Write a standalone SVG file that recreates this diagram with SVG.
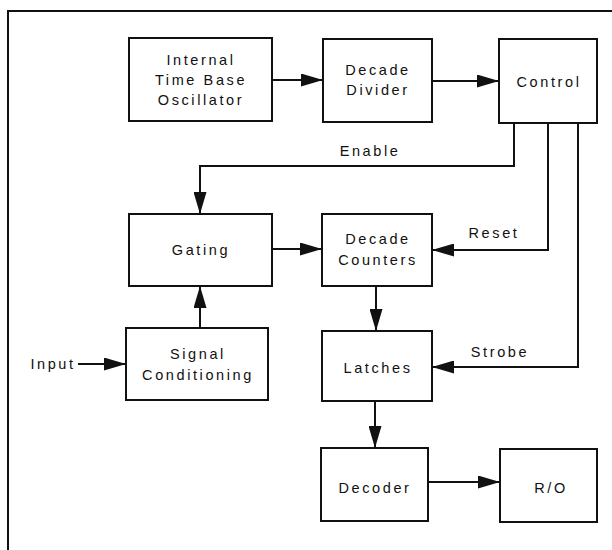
<svg xmlns="http://www.w3.org/2000/svg" width="612" height="550" viewBox="0 0 612 550">
<style>
  .box { fill: #fff; stroke: #111; stroke-width: 2; }
  .t { font-family: "Liberation Sans", Arial, sans-serif; font-size: 14.5px; letter-spacing: 2.6px; fill: #111; text-anchor: middle; }
  .c { fill: none; stroke: #111; stroke-width: 2; marker-end: url(#ah); }
  .frame { fill: none; stroke: #111; stroke-width: 2; }
</style>
<defs>
  <marker id="ah" markerUnits="userSpaceOnUse" markerWidth="22" markerHeight="13" refX="22" refY="6.5" orient="auto">
    <path d="M0,0 L22,6.5 L0,13 z" fill="#111"/>
  </marker>
</defs>
<rect width="612" height="550" fill="#fff"/>
<path class="frame" d="M8,550 V11 H612"/>
<g id="osc"><rect class="box" x="129" y="38" width="143" height="83"/>
  <text class="t" x="201" y="65">Internal</text><text class="t" x="201" y="85">Time Base</text><text class="t" x="201" y="105">Oscillator</text></g>
<g id="divider"><rect class="box" x="323" y="39" width="109" height="83"/>
  <text class="t" x="378" y="75">Decade</text><text class="t" x="378" y="95">Divider</text></g>
<g id="control"><rect class="box" x="499" y="39" width="98" height="84"/>
  <text class="t" x="549" y="87">Control</text></g>
<g id="gating"><rect class="box" x="129" y="214" width="143" height="72"/>
  <text class="t" x="201" y="255">Gating</text></g>
<g id="counters"><rect class="box" x="322" y="214" width="110" height="72"/>
  <text class="t" x="378" y="244">Decade</text><text class="t" x="378" y="265">Counters</text></g>
<g id="signal"><rect class="box" x="126" y="328" width="142" height="72"/>
  <text class="t" x="198" y="359">Signal</text><text class="t" x="198" y="380">Conditioning</text></g>
<g id="latches"><rect class="box" x="322" y="331" width="110" height="70"/>
  <text class="t" x="378" y="373">Latches</text></g>
<g id="decoder"><rect class="box" x="321" y="448" width="107" height="73"/>
  <text class="t" x="375" y="493">Decoder</text></g>
<g id="ro"><rect class="box" x="500" y="449" width="97" height="73"/>
  <text class="t" x="551" y="493">R/O</text></g>
<g id="connectors">
  <path class="c" d="M272,80 H323"/>
  <path class="c" d="M432,81 H499"/>
  <path class="c" d="M514,123 V166 H200 V214"/>
  <path class="c" d="M548,123 V250 H432"/>
  <path class="c" d="M578,123 V367 H432"/>
  <path class="c" d="M272,249 H322"/>
  <path class="c" d="M200,328 V286"/>
  <path class="c" d="M78,364 H126"/>
  <path class="c" d="M376,286 V331"/>
  <path class="c" d="M375,401 V448"/>
  <path class="c" d="M428,482 H500"/>
  <text class="t" x="370" y="156">Enable</text>
  <text class="t" x="494" y="238">Reset</text>
  <text class="t" x="500" y="357">Strobe</text>
  <text class="t" x="53" y="369">Input</text>
</g>
</svg>
